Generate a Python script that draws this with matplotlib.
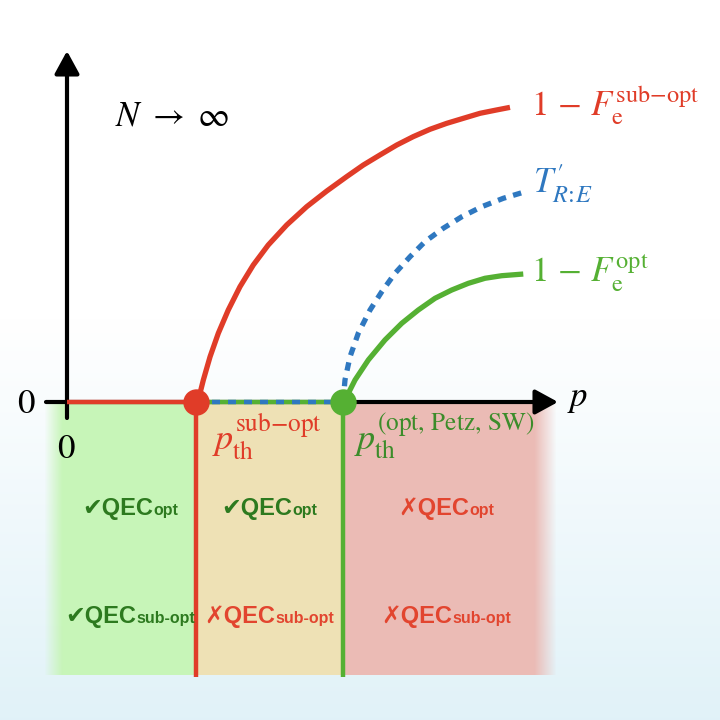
import numpy as np
import matplotlib
matplotlib.use('Agg')
import matplotlib.pyplot as plt
from matplotlib.offsetbox import TextArea, HPacker, AnnotationBbox

# ---------------- data (schematic values, in units of p_th^sub-opt) ----------------
p_th_sub = 1.0
p_th_opt = 2.14

# 1 - F_e^{sub-opt}
red_p = [1.000, 1.018, 1.057, 1.109, 1.173, 1.250, 1.341, 1.444, 1.560, 1.703, 1.858,
         2.013, 2.168, 2.297, 2.426, 2.556, 2.684, 2.814, 2.943, 3.072, 3.202, 3.331, 3.434]
red_v = [0.000, 0.016, 0.171, 0.351, 0.533, 0.713, 0.894, 1.062, 1.217, 1.372, 1.514,
         1.635, 1.747, 1.837, 1.915, 1.992, 2.057, 2.114, 2.160, 2.199, 2.238, 2.264, 2.284]
# T'_{R:E}
blue_p = [2.140, 2.155, 2.194, 2.258, 2.349, 2.440, 2.543, 2.659, 2.775, 2.917, 3.060,
          3.215, 3.382, 3.525]
blue_v = [0.000, 0.171, 0.351, 0.533, 0.713, 0.855, 0.998, 1.126, 1.243, 1.347, 1.436,
          1.514, 1.579, 1.622]
# 1 - F_e^{opt}
green_p = [2.140, 2.155, 2.233, 2.336, 2.465, 2.595, 2.723, 2.853, 2.982, 3.111, 3.240,
           3.370, 3.537]
green_v = [0.000, 0.016, 0.171, 0.326, 0.481, 0.610, 0.713, 0.804, 0.868, 0.920, 0.959,
           0.979, 0.992]

qec_opt_marks = ['\u2714', '\u2714', '\u2717']
qec_sub_marks = ['\u2714', '\u2717', '\u2717']

# ---------------- colours ----------------
RED = '#e03c28'
GREEN = '#55b033'
DKGREEN = '#3c8c2a'
BLUE = '#2f78c0'
TXT_GREEN = '#2d7a1f'
TXT_RED = '#e2452f'

plt.rcParams['mathtext.fontset'] = 'stix'

S = 129.0  # pixels per unit (layout helper)
def P(px):
    return (px - 67) / S
def V(py):
    return (402 - py) / S

fig = plt.figure(figsize=(7.2, 7.2), dpi=100)
ax = fig.add_axes([0, 0, 1, 1])
ax.set_xlim(P(0), P(720))
ax.set_ylim(V(720), V(0))
ax.axis('off')

# background gradient (white -> pale blue)
rows = 200
yy = np.linspace(0, 720, rows)
t = np.clip((yy - 320) / 400, 0, 1)[:, None]
top = np.array([1.0, 1.0, 1.0])
bot = np.array([0.882, 0.949, 0.973])
grad = (top * (1 - t) + bot * t)[:, None, :].repeat(2, axis=1)
ax.imshow(grad, extent=[P(0), P(720), V(720), V(0)], aspect='auto',
          interpolation='bilinear', zorder=0)

# regions with soft left/right edges
x_left, x_right = P(44), P(557)
ncol = 520
xs = np.linspace(x_left, x_right, ncol)
c_green = np.array([0.784, 0.961, 0.722])
c_tan = np.array([0.937, 0.886, 0.710])
c_pink = np.array([0.922, 0.737, 0.710])
img = np.zeros((1, ncol, 4))
for i, x in enumerate(xs):
    if x < p_th_sub:
        c = c_green
    elif x < p_th_opt:
        c = c_tan
    else:
        c = c_pink
    a = min(1.0, (x - x_left) * S / 18.0, (x_right - x) * S / 22.0)
    img[0, i, :3] = c
    img[0, i, 3] = max(a, 0)
ax.imshow(img, extent=[x_left, x_right, V(675), 0], aspect='auto',
          interpolation='bilinear', zorder=1)

# axes with arrows
arrow_kw = dict(arrowstyle='-|>,head_length=0.55,head_width=0.3',
                lw=3, color='k', shrinkA=0, shrinkB=0, mutation_scale=25)
ax.annotate('', xy=(P(558), 0), xytext=(P(46), 0), arrowprops=arrow_kw, zorder=2)
ax.annotate('', xy=(0, V(51)), xytext=(0, V(418)), arrowprops=arrow_kw, zorder=2)

# along the p axis
ax.plot([0, p_th_sub], [0, 0], color=RED, lw=3.2, solid_capstyle='butt', zorder=3)
ax.plot([p_th_sub, p_th_opt], [0, 0], color=GREEN, lw=3.2, solid_capstyle='butt', zorder=3)
ax.plot([p_th_sub, p_th_opt], [0, 0], color=BLUE, lw=3.2, dashes=(1.8, 1.8), zorder=3.1)

# vertical threshold lines
ax.plot([p_th_sub, p_th_sub], [0, V(677)], color=RED, lw=3.2, solid_capstyle='butt', zorder=3)
ax.plot([p_th_opt, p_th_opt], [0, V(677)], color=GREEN, lw=3.2, solid_capstyle='butt', zorder=3)

# curves
ax.plot(red_p, red_v, color=RED, lw=3.8, solid_capstyle='butt', solid_joinstyle='round', zorder=4)
ax.plot(blue_p, blue_v, color=BLUE, lw=3.8, dashes=(1.6, 1.4), zorder=4)
ax.plot(green_p, green_v, color=GREEN, lw=3.8, solid_capstyle='butt', solid_joinstyle='round', zorder=4)

# threshold dots
ax.plot([p_th_sub], [0], 'o', color=RED, ms=19, mec='none', zorder=5)
ax.plot([p_th_opt], [0], 'o', color=GREEN, ms=19, mec='none', zorder=5)

# math labels
fs = 25
ax.text(P(115), V(125), r'$N\ \rightarrow\ \infty$', fontsize=fs, ha='left', va='baseline', color='k', zorder=6)
ax.text(P(531), V(115), r'$1\,-\,F_{\mathrm{e}}^{\mathrm{sub{-}opt}}$', fontsize=fs, ha='left', va='baseline', color=RED, zorder=6)
ax.text(P(533), V(193), r"$T_{R\!:\!E}^{\prime}$", fontsize=fs, ha='left', va='baseline', color=BLUE, zorder=6)
ax.text(P(531), V(282), r'$1\,-\,F_{\mathrm{e}}^{\mathrm{opt}}$', fontsize=fs, ha='left', va='baseline', color=GREEN, zorder=6)
ax.text(P(212), V(450), r'$p_{\mathrm{th}}^{\mathrm{sub{-}opt}}$', fontsize=26, ha='left', va='baseline', color=RED, zorder=6)
ax.text(P(354), V(450), r'$p_{\mathrm{th}}^{\mathrm{(opt,\,Petz,\,SW)}}$', fontsize=26, ha='left', va='baseline', color=DKGREEN, zorder=6)
ax.text(P(26), V(413), r'$0$', fontsize=fs, ha='center', va='baseline', color='k', zorder=6)
ax.text(P(66), V(458), r'$0$', fontsize=fs, ha='center', va='baseline', color='k', zorder=6)
ax.text(P(578), V(406), r'$p$', fontsize=fs, ha='center', va='baseline', color='k', zorder=6)

# QEC verdict labels
fam = ['Liberation Sans', 'DejaVu Sans']
main_props = dict(family=fam, weight='bold', fontsize=17)
sub_props = dict(family=fam, weight='bold', fontsize=11.5)
col_centers = [P(130), P(269), P(446)]

def qec_label(x, y, mark, sub):
    color = TXT_GREEN if mark == '\u2714' else TXT_RED
    a = TextArea(mark + 'QEC', textprops=dict(color=color, **main_props))
    b = TextArea(sub, textprops=dict(color=color, **sub_props))
    box = HPacker(children=[a, b], align='baseline', pad=0, sep=0)
    ab = AnnotationBbox(box, (x, y), frameon=False, box_alignment=(0.5, 0.5),
                        xycoords='data', zorder=6)
    ax.add_artist(ab)

for x, m in zip(col_centers, qec_opt_marks):
    qec_label(x, V(508), m, 'opt')
for x, m in zip(col_centers, qec_sub_marks):
    qec_label(x, V(617), m, 'sub-opt')

fig.savefig('out.png', dpi=100)
